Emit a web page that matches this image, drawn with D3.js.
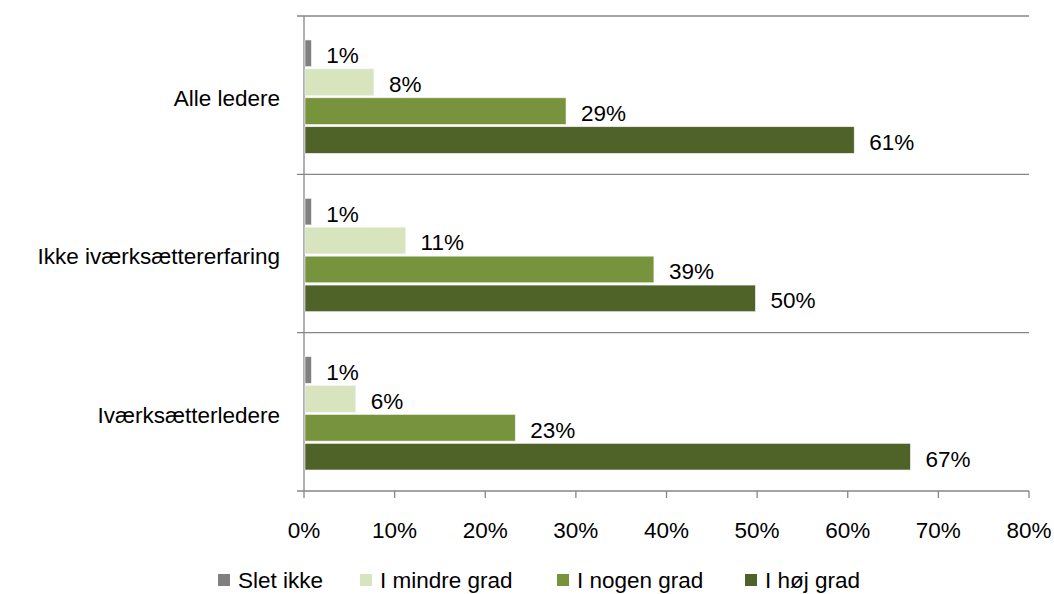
<!DOCTYPE html>
<html><head><meta charset="utf-8">
<script src="https://cdn.jsdelivr.net/npm/d3@7"></script>
<style>body{margin:0;background:#fff}svg{display:block}text{font-family:"Liberation Sans",Arial,sans-serif;fill:#000}</style>
</head><body><svg id="c" width="1054" height="594"></svg>
<script>
const categories = ["Alle ledere", "Ikke iværksættererfaring", "Iværksætterledere"];
const seriesNames = ["Slet ikke", "I mindre grad", "I nogen grad", "I høj grad"];
const sletIkke = [0.7, 0.7, 0.7];
const iMindreGrad = [7.6, 11.1, 5.6];
const iNogenGrad = [28.8, 38.5, 23.2];
const iHoejGrad = [60.6, 49.7, 66.8];
const labels = [["1%","8%","29%","61%"],["1%","11%","39%","50%"],["1%","6%","23%","67%"]];
const xTicks = [0,10,20,30,40,50,60,70,80];
const colors = ["#808080", "#d7e4bd", "#77933c", "#4f6228"];

const values = [sletIkke, iMindreGrad, iNogenGrad, iHoejGrad];
const svg = d3.select("#c");
const L = 304, R = 1029, T = 16, B = 491;
const FS = 22.5;
const x = d3.scaleLinear().domain([0, 80]).range([L, R]);
const y = d3.scaleBand().domain(categories).range([T, B]);
const inner = d3.scaleBand().domain(seriesNames).range([24, y.bandwidth() - 21]).paddingInner(0.08);
const grid = "#868686";

const bounds = categories.map(c => y(c)).concat([B]);
svg.selectAll("line.g").data(bounds).enter().append("line")
  .attr("x1", L - 7).attr("x2", R).attr("y1", d => d).attr("y2", d => d)
  .attr("stroke", grid).attr("stroke-width", 1.3);
svg.append("line").attr("x1", L).attr("x2", L).attr("y1", T).attr("y2", B)
  .attr("stroke", grid).attr("stroke-width", 1.3);
svg.selectAll("line.t").data(xTicks).enter().append("line")
  .attr("x1", d => x(d)).attr("x2", d => x(d)).attr("y1", B).attr("y2", B + 7)
  .attr("stroke", grid).attr("stroke-width", 1.3);
svg.selectAll("text.xt").data(xTicks).enter().append("text")
  .attr("x", d => x(d)).attr("y", 530).attr("dy", "0.35em").attr("text-anchor", "middle")
  .attr("font-size", FS).text(d => d + "%");

svg.selectAll("text.cat").data(categories).enter().append("text")
  .attr("x", 280).attr("y", d => y(d) + y.bandwidth() / 2 + 3).attr("dy", "0.35em")
  .attr("text-anchor", "end").attr("font-size", FS).text(d => d);

categories.forEach((c, ci) => {
  seriesNames.forEach((s, si) => {
    const v = values[si][ci];
    const by = y(c) + inner(s);
    svg.append("rect").attr("x", x(0) + 1).attr("y", by)
      .attr("width", x(v) - x(0)).attr("height", inner.bandwidth())
      .attr("fill", colors[si]).attr("stroke", "#f2f2f2").attr("stroke-width", 0.6);
    svg.append("text").attr("x", x(v) + 16).attr("y", by + inner.bandwidth() / 2 + 2)
      .attr("dy", "0.35em").attr("font-size", FS).text(labels[ci][si]);
  });
});

const legX = [218, 360, 557, 745];
seriesNames.forEach((s, i) => {
  svg.append("rect").attr("x", legX[i]).attr("y", 574).attr("width", 12).attr("height", 12).attr("fill", colors[i]);
  svg.append("text").attr("x", legX[i] + 20).attr("y", 580).attr("dy", "0.35em").attr("font-size", FS).text(s);
});
</script></body></html>
